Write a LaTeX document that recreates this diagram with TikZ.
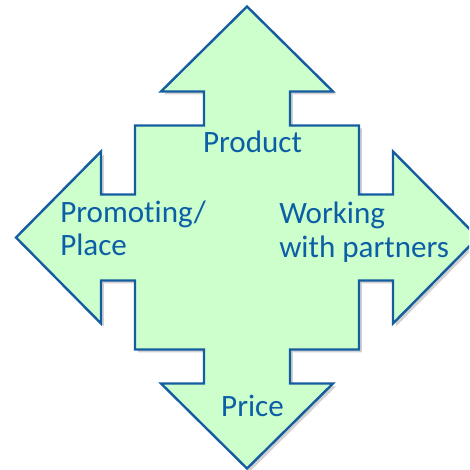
\documentclass[tikz,border=0pt]{standalone}
\usepackage{fontspec}
\setmainfont{Carlito}[Ligatures=NoCommon]
\usetikzlibrary{shadows}
\definecolor{arrowline}{RGB}{22,92,160}
\definecolor{arrowfill}{RGB}{204,255,204}
\definecolor{labeltext}{RGB}{12,94,166}
\tikzset{
    crossarrow/.style={draw=arrowline, line width=1.8pt, fill=arrowfill, line join=miter,
        drop shadow={shadow xshift=2.2pt, shadow yshift=-2.2pt, opacity=0.3, fill=black!60}},
    armlabel/.style={text=labeltext, inner sep=0pt, font=\fontsize{23.3pt}{25.1pt}\selectfont}
}
\begin{document}
\begin{tikzpicture}[x=0.75pt, y=-0.75pt]
    \useasboundingbox (0,0) rectangle (469,470);
    \clip (0,0) rectangle (469,470);
    % four-way arrow
    \draw[crossarrow] (247,6.5) -- (333,91.5) -- (290,91.5) -- (290,125.5) -- (359,125.5)
        -- (359,194.5) -- (393,194.5) -- (393,151.5) -- (478,237.5) -- (393,323.5)
        -- (393,280.5) -- (359,280.5) -- (359,349.5) -- (290,349.5) -- (290,383.5)
        -- (333,383.5) -- (247,468.5) -- (161,383.5) -- (204,383.5) -- (204,349.5)
        -- (135,349.5) -- (135,280.5) -- (101,280.5) -- (101,323.5) -- (16,237.5)
        -- (101,151.5) -- (101,194.5) -- (135,194.5) -- (135,125.5) -- (204,125.5)
        -- (204,91.5) -- (161,91.5) -- cycle;
    % labels
    \node[armlabel, anchor=base] (product) at (252.5,153) {Product};
    \node[armlabel, anchor=base] (price) at (252.5,416) {Price};
    \node[armlabel, anchor=base west, align=left] (promoting) at (60,255.5) {Promoting/\\Place};
    \node[armlabel, anchor=base west, align=left] (partners) at (279,257) {Working\\with partners};
\end{tikzpicture}
\end{document}
